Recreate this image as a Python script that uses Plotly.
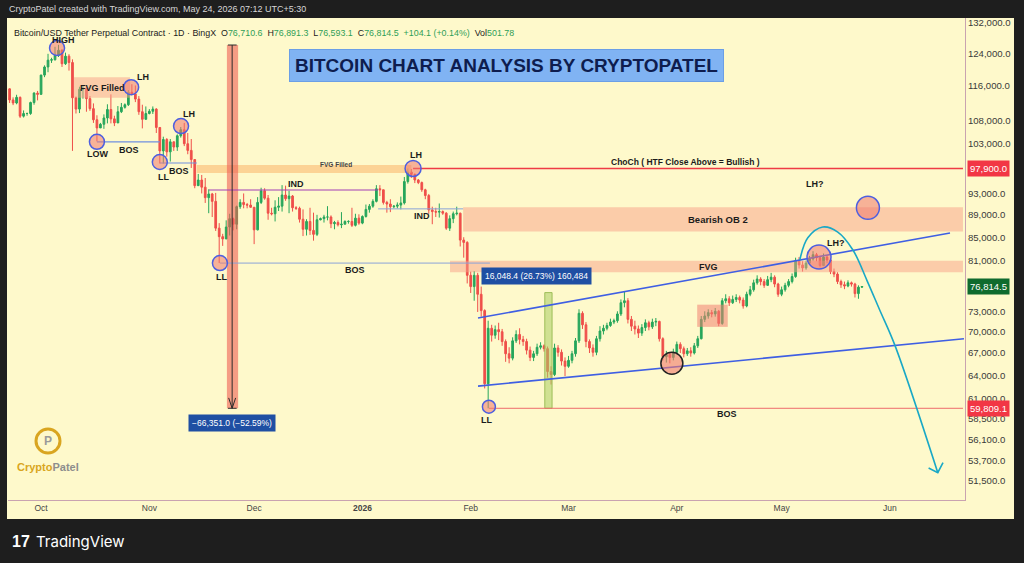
import math
import pandas as pd
import plotly.graph_objects as go

# ---------------- DATA (daily candles, prices in thousands USD) ----------------
dates = pd.date_range("2025-09-22", "2026-05-24", freq="D")
first_open_k = 115.3
last_open_k = 76.7106

close_k = [
    # Sep 22-30
    112.7, 112.0, 113.3, 109.0, 109.6, 109.6, 112.1, 114.3, 114.0,
    # Oct
    118.6, 120.6, 122.3, 122.4, 123.5, 124.8, 121.4, 123.3, 121.7, 113.2, 110.6, 115.2, 115.3, 113.0, 110.7,
    108.2, 106.4, 107.2, 108.6, 110.5, 108.4, 107.5, 110.0, 111.0, 111.6, 114.5, 114.1, 112.9, 110.0, 108.3, 109.6,
    # Nov
    110.1, 110.6, 106.5, 101.5, 103.9, 101.3, 103.4, 102.3, 104.7, 106.0, 103.0, 101.6, 99.7, 94.5, 95.6,
    94.2, 92.2, 92.9, 91.5, 86.6, 85.1, 84.7, 86.8, 88.3, 87.3, 90.5, 91.3, 90.9, 90.8, 90.4,
    # Dec
    86.3, 91.3, 93.5, 92.1, 89.3, 89.2, 90.4, 90.6, 92.7, 92.0, 92.5, 90.3, 90.2, 88.2, 86.4, 87.8,
    86.2, 85.5, 88.1, 88.3, 88.6, 88.6, 87.4, 87.6, 87.2, 87.3, 87.8, 87.8, 87.1, 88.4, 87.5,
    # Jan
    88.7, 90.0, 90.6, 91.5, 93.9, 93.7, 91.3, 91.0, 90.5, 90.6, 90.8, 91.2, 95.3, 97.2, 96.7, 95.6,
    95.1, 93.7, 92.6, 89.9, 89.6, 89.5, 89.6, 89.3, 86.6, 88.3, 89.2, 89.3, 84.5, 84.1, 78.6,
    # Feb
    76.8, 78.6, 75.6, 73.1, 62.9, 70.5, 69.5, 70.3, 70.0, 68.6, 66.9, 66.3, 68.7, 69.6,
    68.9, 68.6, 67.4, 66.4, 66.9, 67.8, 68.0, 67.6, 64.5, 64.1, 67.7, 67.1, 65.9, 65.2,
    # Mar
    66.0, 66.9, 68.7, 72.7, 71.0, 68.6, 67.7, 67.1, 69.0, 70.1, 70.5, 70.9, 71.4, 71.6, 72.6, 74.3,
    74.6, 71.8, 70.8, 70.4, 69.8, 70.6, 71.3, 70.7, 71.4, 71.5, 69.0, 66.5, 66.8, 66.4, 67.1,
    # Apr
    68.2, 67.6, 66.9, 67.3, 67.0, 68.0, 69.0, 71.8, 72.3, 72.8, 72.6, 73.0, 71.2, 74.6, 74.9,
    74.3, 74.8, 75.1, 74.7, 73.8, 75.6, 76.3, 77.4, 78.0, 77.6, 77.0, 77.9, 78.3, 77.2, 75.6,
    # May 1-24
    76.3, 77.0, 77.6, 78.4, 81.0, 80.3, 79.8, 80.6, 81.3, 82.0, 81.5, 80.2, 81.6, 81.1, 79.2,
    78.8, 77.6, 77.1, 76.9, 77.4, 77.2, 75.7, 76.7104, 76.8145,
]

high_k = [
    115.4, 113.3, 113.9, 113.5, 110.3, 109.8, 112.3, 114.5, 114.8,
    118.7, 121.0, 123.9, 122.9, 125.7, 126.2, 125.1, 124.2, 123.8, 122.5, 113.5, 115.8, 116.0, 115.6, 113.6,
    111.9, 109.2, 107.5, 109.4, 111.7, 114.0, 109.1, 111.3, 112.0, 111.9, 115.0, 116.4, 116.1, 113.6, 111.6, 111.2,
    110.6, 111.2, 110.8, 106.6, 104.5, 104.2, 104.0, 103.5, 105.0, 106.6, 107.5, 105.3, 104.0, 99.8, 96.8,
    96.6, 96.0, 93.8, 93.1, 93.1, 87.5, 85.6, 88.0, 89.2, 88.5, 90.7, 91.9, 93.0, 91.2, 91.9,
    90.4, 92.3, 94.1, 94.0, 92.7, 90.3, 91.7, 92.3, 94.6, 94.5, 93.5, 92.7, 90.6, 90.5, 90.0, 88.2,
    90.3, 89.4, 89.0, 88.5, 89.0, 90.6, 88.9, 87.9, 88.0, 89.5, 88.0, 88.0, 90.3, 89.2, 89.1,
    88.9, 90.9, 91.0, 91.9, 94.6, 94.6, 93.7, 91.6, 91.9, 90.8, 91.3, 92.4, 96.2, 97.9, 97.8, 96.9,
    95.8, 95.3, 93.9, 92.9, 90.5, 90.3, 91.1, 89.8, 89.5, 88.9, 89.6, 90.5, 89.4, 85.0, 84.3,
    79.2, 79.3, 79.0, 76.8, 73.3, 71.6, 71.0, 70.9, 71.3, 70.4, 68.9, 67.8, 69.2, 70.2,
    70.5, 69.4, 69.0, 67.9, 67.3, 68.3, 68.5, 68.2, 67.9, 65.2, 68.3, 68.1, 67.5, 66.4,
    66.6, 67.3, 69.1, 73.3, 73.0, 71.4, 68.9, 68.2, 69.4, 70.8, 71.0, 71.3, 71.9, 71.9, 73.0, 74.8,
    76.1, 75.0, 72.3, 71.6, 70.9, 71.1, 71.8, 71.6, 71.9, 72.0, 71.6, 69.2, 67.3, 67.1, 67.6,
    68.6, 68.5, 67.9, 67.7, 67.8, 68.4, 69.4, 72.3, 73.0, 73.3, 73.2, 73.5, 73.2, 75.0, 75.6,
    75.3, 75.4, 75.6, 75.4, 75.1, 76.0, 76.9, 77.9, 78.6, 78.3, 78.0, 78.5, 79.0, 78.6, 77.4,
    76.8, 77.4, 78.0, 78.9, 81.5, 81.6, 80.9, 81.0, 81.8, 82.6, 82.3, 81.8, 82.2, 81.9, 81.4,
    79.7, 79.1, 77.9, 77.6, 77.8, 77.6, 77.4, 77.0, 76.8913,
]

low_k = [
    112.0, 111.5, 111.7, 108.6, 108.7, 109.1, 109.3, 111.6, 112.6,
    113.9, 118.1, 119.3, 121.6, 122.2, 123.1, 120.6, 121.1, 119.7, 101.5, 109.6, 109.7, 113.0, 110.0, 110.2,
    107.5, 103.5, 106.4, 106.2, 107.4, 107.4, 106.8, 107.5, 109.7, 110.7, 111.3, 113.8, 112.2, 109.3, 106.3, 108.6,
    109.4, 109.5, 105.3, 98.9, 98.9, 100.3, 99.3, 101.5, 101.5, 104.3, 102.5, 100.8, 98.0, 94.0, 94.6,
    93.0, 91.2, 89.3, 88.6, 86.1, 80.6, 83.5, 84.7, 85.3, 86.2, 86.4, 90.1, 90.2, 90.2, 90.3,
    83.8, 86.2, 91.0, 91.8, 88.1, 88.9, 87.8, 89.7, 89.6, 91.6, 89.3, 89.6, 89.9, 87.6, 85.2, 85.3,
    85.4, 84.4, 85.2, 88.0, 87.6, 88.0, 86.6, 86.4, 86.9, 86.6, 87.3, 87.4, 86.8, 86.9, 87.2,
    87.3, 88.5, 89.4, 90.3, 91.3, 92.5, 90.9, 89.4, 89.5, 90.2, 90.2, 90.0, 90.9, 94.9, 96.0, 95.0,
    94.8, 93.3, 91.9, 89.2, 87.3, 88.6, 88.5, 89.0, 86.3, 86.1, 87.5, 88.9, 83.4, 81.5, 77.3,
    75.8, 74.6, 72.9, 72.2, 62.3, 59.809, 68.6, 69.0, 68.8, 68.0, 65.8, 65.6, 66.0, 68.4,
    68.2, 68.0, 66.8, 65.9, 65.9, 66.6, 67.5, 67.2, 63.7, 62.8, 63.9, 66.5, 65.3, 63.9,
    65.0, 65.6, 66.5, 68.4, 70.4, 67.8, 67.0, 66.5, 66.7, 68.6, 69.6, 70.2, 70.7, 71.1, 71.3, 72.3,
    73.6, 71.2, 70.1, 69.6, 69.1, 69.4, 70.1, 70.2, 70.4, 70.8, 68.6, 66.0, 65.7, 65.6, 66.0,
    66.8, 67.0, 66.4, 66.6, 66.5, 66.8, 67.7, 68.9, 71.4, 71.9, 72.1, 72.2, 70.8, 71.0, 74.2,
    73.8, 74.1, 74.4, 74.2, 73.4, 73.6, 75.3, 76.0, 77.1, 77.0, 76.6, 76.9, 77.5, 76.7, 75.2,
    75.3, 76.0, 76.7, 77.3, 78.2, 79.7, 79.2, 79.5, 80.4, 81.0, 80.9, 79.9, 80.1, 80.6, 78.8,
    78.3, 77.2, 76.6, 76.4, 76.7, 76.8, 75.1, 74.9, 76.5931,
]

last_volume = 501.78

month_ticks = ["2025-10-01", "2025-11-01", "2025-12-01", "2026-01-01", "2026-02-01",
               "2026-03-01", "2026-04-01", "2026-05-01", "2026-06-01"]
month_labels = ["Oct", "Nov", "Dec", "<b>2026</b>", "Feb", "Mar", "Apr", "May", "Jun"]
price_ticks = [132000, 124000, 116000, 108000, 103000, 93000, 89000, 85000, 81000,
               73000, 70000, 67000, 64000, 61000, 58500, 56100, 53700, 51500]

choch_level = 97900.0
bos_low_level = 59809.1
drop_top = 126160.1
rally_top = 75857.5
rally_text = "16,048.4 (26.73%) 160,484"
drop_text = "\u221266,351.0 (\u221252.59%)"

assert len(close_k) == len(dates) == len(high_k) == len(low_k)

close = [v * 1000 for v in close_k]
high = [v * 1000 for v in high_k]
low = [v * 1000 for v in low_k]
opn = [first_open_k * 1000] + close[:-1]
opn[-1] = last_open_k * 1000

# ---------------- STYLE ----------------
UP = "#26a65b"
DN = "#ef4f4a"
PANEL = "#fef9cb"
DARK = "#1e1e1e"
CIRC_EDGE = "#4d5fe0"
CIRC_FILL = "rgba(240,120,110,0.55)"
BAND = "rgba(247,160,135,0.50)"
TXT = "#1b1b1b"
FONT = "Liberation Sans, Arial, sans-serif"

fig = go.Figure()


def band(x0, x1, y0, y1, color, edge=None):
    fig.add_trace(go.Scatter(x=[x0, x1, x1, x0, x0], y=[y0, y0, y1, y1, y0], mode="lines",
                             fill="toself", fillcolor=color,
                             line=dict(width=1 if edge else 0, color=edge or color),
                             hoverinfo="skip", showlegend=False))


def seg(xs, ys, color, width=1.0, shape="linear"):
    fig.add_trace(go.Scatter(x=xs, y=ys, mode="lines", line=dict(color=color, width=width, shape=shape),
                             hoverinfo="skip", showlegend=False))


def circ(x, y, size, fill=CIRC_FILL, edge=CIRC_EDGE, width=1.5, symbol="circle"):
    fig.add_trace(go.Scatter(x=[x], y=[y], mode="markers",
                             marker=dict(size=size, color=fill, symbol=symbol, line=dict(color=edge, width=width)),
                             hoverinfo="skip", showlegend=False))


def lab(x, y, text, size=9, color=TXT, bold=True, **kw):
    fig.add_annotation(x=x, y=math.log10(y), xref="x", yref="y", text=f"<b>{text}</b>" if bold else text,
                       showarrow=False, xanchor="center", yanchor="middle",
                       font=dict(size=size, color=color, family=FONT), **kw)


# ---- background zones ----
band("2025-10-10 10:00", "2025-10-26 12:00", 113200, 118100, BAND)                 # FVG Filled box
band("2025-11-14 14:00", "2026-01-15 00:00", 97000, 98600, "rgba(250,190,120,0.65)")  # FVG filled line
band("2026-01-29 20:00", "2026-06-21 22:00", 86000, 90400, BAND)                   # Bearish OB 2
band("2026-01-26 02:00", "2026-06-21 22:00", 79100, 81000, BAND)                   # FVG
band("2026-04-06 20:00", "2026-04-15 14:00", 70700, 74000, "rgba(240,130,115,0.55)")
band("2025-11-23 05:00", "2025-11-26 10:00", bos_low_level, drop_top, "rgba(238,95,85,0.60)")  # measure
band("2026-02-22 05:00", "2026-02-24 07:00", bos_low_level, rally_top, "rgba(170,205,100,0.55)",
     edge="rgba(150,185,80,0.9)")

# ---- candles ----
fig.add_trace(go.Candlestick(
    x=dates, open=opn, high=high, low=low, close=close,
    increasing=dict(line=dict(color=UP, width=1), fillcolor=UP),
    decreasing=dict(line=dict(color=DN, width=1), fillcolor=DN),
    whiskerwidth=0, hoverinfo="skip", showlegend=False))

# ---- structure lines ----
seg(["2025-10-17", "2025-11-04"], [103400, 103400], "#6f8fe0", 1.2)          # LOW -> BOS
seg(["2025-11-04", "2025-11-14 14:00"], [99000, 99000], "#6f8fe0", 1.2)       # LL -> BOS
seg(["2025-11-18 02:00", "2026-01-05 12:00"], [93660, 93660], "#a23fb5", 1.0)  # IND
seg(["2025-11-21 05:00", "2026-02-06 12:00"], [80600, 80600], "#8aa3d8", 1.0)  # BOS from LL
seg(["2026-01-05 12:00", "2026-01-29 20:00"], [90100, 90100], "#8aa3d8", 1.0)  # IND 2
seg(["2026-01-15 12:00", "2026-06-21 22:00"], [choch_level, choch_level], "#ef3b45", 1.5)  # ChoCh
seg(["2026-02-06 05:00", "2026-06-21 22:00"], [bos_low_level, bos_low_level], "#ee6b6b", 1.0)
seg(["2026-02-03 02:00", "2026-06-18 05:00"], [72000, 85750], "#3f5fe3", 1.6)  # channel top
seg(["2026-02-03 02:00", "2026-06-22 05:00"], [62600, 69000], "#3f5fe3", 1.6)  # channel bottom

# measure tool centre line with caps and arrow
seg(["2025-11-24 17:00", "2025-11-24 17:00"], [drop_top, bos_low_level], "#2b2b2b", 1.0)
seg(["2025-11-23 12:00", "2025-11-26 00:00"], [drop_top, drop_top], "#2b2b2b", 1.0)
seg(["2025-11-23 12:00", "2025-11-26 00:00"], [bos_low_level, bos_low_level], "#2b2b2b", 1.0)
seg(["2025-11-23 17:00", "2025-11-24 17:00", "2025-11-25 17:00"], [61100, bos_low_level, 61100], "#2b2b2b", 1.0)

# ---- circles ----
circ("2025-10-05 14:00", 125400, 15)
circ("2025-10-26 19:00", 115700, 15)
circ("2025-10-17", 103400, 15)
circ("2025-11-10 02:00", 106800, 15)
circ("2025-11-04", 99200, 15)
circ("2025-11-21 05:00", 80600, 15)
circ("2026-01-15 12:00", 97900, 16)
circ("2026-02-06 05:00", 60000, 13)
circ("2026-03-30 14:00", 65600, 22, edge="#222222", fill="rgba(240,120,110,0.6)")
circ("2026-05-11 17:00", 81600, 24)
circ("2026-05-25 17:00", 90300, 23)
circ("2026-01-25 05:00", 89300, 37, fill="rgba(0,0,0,0)", edge="#8e2ba8", width=1.6, symbol="circle-open")

# ---- projected path (cyan) ----
seg(["2026-05-06 05:00", "2026-05-08 12:00", "2026-05-12 19:00", "2026-05-17 02:00", "2026-05-21 10:00",
     "2026-05-25 10:00", "2026-05-29 02:00", "2026-06-02 10:00", "2026-06-14 17:00"],
    [81100, 84900, 86800, 85900, 82800, 77800, 73200, 68100, 52400], "#19a8c6", 1.6, shape="spline")
seg(["2026-06-12 02:00", "2026-06-14 17:00", "2026-06-16 05:00"], [52900, 52400, 53500], "#19a8c6", 1.6)

# ---- labels ----
lab("2025-10-07 07:00", 127500, "HIGH")
lab("2025-10-18 12:00", 115500, "FVG Filled")
lab("2025-10-30 05:00", 118100, "LH")
lab("2025-10-17 07:00", 100900, "LOW")
lab("2025-10-26 05:00", 101700, "BOS")
lab("2025-11-12 10:00", 109500, "LH")
lab("2025-11-04 22:00", 96200, "LL")
lab("2025-11-09 12:00", 97400, "BOS")
lab("2025-12-24 10:00", 98800, "FVG Filled", size=6.5, color="#444444")
lab("2025-12-13", 94800, "IND")
lab("2025-11-21 19:00", 78300, "LL")
lab("2025-12-29 22:00", 79500, "BOS")
lab("2026-01-16 07:00", 100600, "LH")
lab("2026-04-03 14:00", 99200, "ChoCh ( HTF Close Above = Bullish )", size=8.5)
lab("2026-01-18", 88800, "IND")
lab("2026-04-12 19:00", 88100, "Bearish OB 2", size=9.5)
lab("2026-04-10 05:00", 80000, "FVG")
lab("2026-02-05 14:00", 58400, "LL")
lab("2026-04-15 07:00", 59100, "BOS")
lab("2026-05-16 12:00", 84000, "LH?")
lab("2026-05-10 12:00", 94800, "LH?")

lab("2026-02-19 17:00", 78500, rally_text, size=8.5, color="white", bold=False, bgcolor="#1f4fa3", borderpad=3)
lab("2025-11-24 17:00", 58000, drop_text, size=8.5, color="white", bold=False, bgcolor="#1f4fa3", borderpad=3)

# ---------------- layout decoration (pixel -> paper helpers) ----------------
L_, R_, T_, B_ = 8, 965, 18, 500


def px(x):
    return (x - L_) / (R_ - L_)


def py(y):
    return (B_ - y) / (B_ - T_)


def note(x, y, text, xanchor="center", **kw):
    fig.add_annotation(x=px(x), y=py(y), xref="paper", yref="paper", xanchor=xanchor, yanchor="middle",
                       showarrow=False, text=text, **kw)


fig.add_shape(type="rect", xref="paper", yref="paper", x0=px(7), x1=px(1014), y0=py(519), y1=py(18),
              fillcolor=PANEL, line=dict(width=0), layer="below")

# price tags on axis
for lvl, col in [(choch_level, "#f23645"), (close[-1], "#0f6b2e"), (bos_low_level, "#f23645")]:
    fig.add_annotation(x=px(967), y=math.log10(lvl), xref="paper", yref="y", xanchor="left", yanchor="middle",
                       text=f"{lvl:,.1f}", showarrow=False, bgcolor=col, borderpad=2,
                       font=dict(size=9.5, color="white", family=FONT))

# title box
note(506, 65, "<b>BITCOIN CHART ANALYSIS BY CRYPTOPATEL</b>", bgcolor="#80b3f3",
     bordercolor="#6b9fe6", borderwidth=1, borderpad=5, font=dict(size=19, color="#0e1d4f", family=FONT))

# header lines
note(7, 9, "CryptoPatel created with TradingView.com, May 24, 2026 07:12 UTC+5:30", xanchor="left",
     font=dict(size=9, color="#d6d6d6", family=FONT))
G = "#2e9e57"
chg = close[-1] - close[-2]
hdr = ("Bitcoin/USD Tether Perpetual Contract · 1D · BingX  "
       f"O<span style='color:{G}'>{opn[-1]:,.1f}</span>  H<span style='color:{G}'>{high[-1]:,.1f}</span>  "
       f"L<span style='color:{G}'>{low[-1]:,.1f}</span>  C<span style='color:{G}'>{close[-1]:,.1f}</span>  "
       f"<span style='color:{G}'>+{chg:,.1f} (+{chg / close[-2] * 100:.2f}%)</span>  "
       f"Vol<span style='color:{G}'>{last_volume}</span>")
note(12, 33, hdr, xanchor="left", font=dict(size=8.9, color="#1a1a1a", family=FONT))

# CryptoPatel watermark
fig.add_shape(type="circle", xref="paper", yref="paper", x0=px(36), x1=px(60), y0=py(453), y1=py(429),
              line=dict(color="#d9a520", width=3), fillcolor="rgba(0,0,0,0)")
note(48, 441, "<b>P</b>", font=dict(size=12, color="#9a9a9a", family=FONT))
note(48, 467, "<b><span style='color:#d9a520'>Crypto</span><span style='color:#8d8d8d'>Patel</span></b>",
     font=dict(size=11, family=FONT))

# TradingView footer
note(10, 541, "<b>17</b>", xanchor="left", font=dict(size=16, color="white", family=FONT))
note(34, 541, "TradingView", xanchor="left", font=dict(size=15, color="white", family="Inter, " + FONT))

fig.update_layout(
    width=1024, height=563,
    margin=dict(l=L_, r=1024 - R_, t=T_, b=563 - B_),
    paper_bgcolor=DARK, plot_bgcolor="rgba(0,0,0,0)",
    showlegend=False, hovermode=False,
    font=dict(family=FONT),
    xaxis=dict(type="date", range=["2025-09-21 13:00", "2026-06-22 12:00"], rangeslider=dict(visible=False),
               tickvals=month_ticks, ticktext=month_labels, showgrid=False, zeroline=False,
               showline=True, linecolor="#c9a3b0", linewidth=1, ticks="",
               tickfont=dict(size=8.5, color="#454545")),
    yaxis=dict(type="log", side="right", range=[math.log10(49537), math.log10(133363)],
               tickvals=price_ticks, ticktext=[f"{v:,.1f}" for v in price_ticks],
               showgrid=False, zeroline=False, showline=True, linecolor="#c9a3b0", linewidth=1,
               ticks="", tickfont=dict(size=9.6, color="#3a3a3a")),
)

fig.write_html("out.html", config={"displayModeBar": False},
               post_script="document.body.style.margin='0';document.body.style.background='#1e1e1e';"
                           "document.documentElement.style.overflow='hidden';")
